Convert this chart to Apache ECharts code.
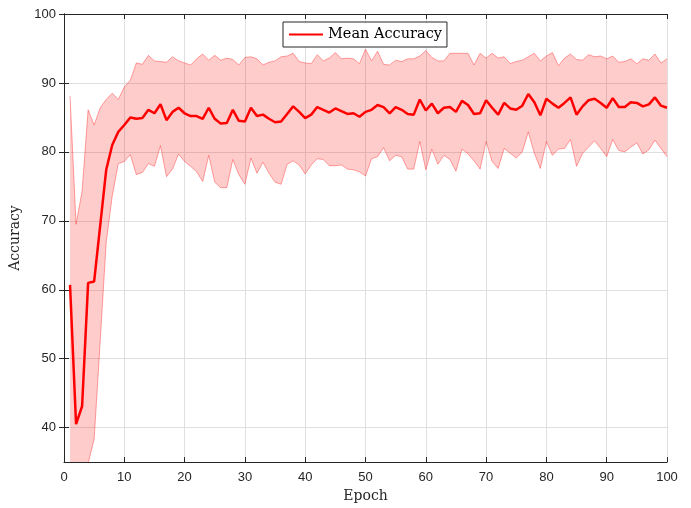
<!DOCTYPE html>
<html>
<head>
<meta charset="utf-8">
<script src="https://cdn.jsdelivr.net/npm/echarts@6/dist/echarts.min.js"></script>
<style>
  html, body { margin: 0; padding: 0; background: #fff; }
  #myChart { width: 691px; height: 508px; }
</style>
</head>
<body>
<div id="myChart"></div>
<script>
// Mean accuracy per epoch (1..100)
var meanAcc = [
  60.7, 40.5, 43.1, 61.0, 61.2, 69.3, 77.4, 81.0, 82.9, 83.9,
  85.0, 84.8, 84.9, 86.1, 85.6, 86.9, 84.6, 85.8, 86.4, 85.6,
  85.2, 85.2, 84.8, 86.4, 84.8, 84.1, 84.2, 86.1, 84.5, 84.4,
  86.4, 85.2, 85.4, 84.8, 84.3, 84.4, 85.5, 86.6, 85.8, 84.9,
  85.4, 86.5, 86.1, 85.7, 86.3, 85.9, 85.5, 85.6, 85.1, 85.8,
  86.1, 86.8, 86.5, 85.6, 86.5, 86.1, 85.5, 85.4, 87.6, 86.0,
  87.0, 85.6, 86.4, 86.5, 85.8, 87.4, 86.8, 85.5, 85.6, 87.5,
  86.4, 85.4, 87.1, 86.3, 86.1, 86.7, 88.4, 87.2, 85.3, 87.7,
  87.0, 86.4, 87.1, 87.9, 85.4, 86.6, 87.5, 87.7, 87.1, 86.4,
  87.8, 86.5, 86.5, 87.2, 87.1, 86.6, 86.9, 87.9, 86.7, 86.4
];

// upper edge of the shaded band
var upperAcc = [
  88.1, 69.5, 74.3, 86.1, 83.9, 86.4, 87.6, 88.5, 87.6, 89.4,
  90.4, 92.9, 92.7, 94.0, 93.2, 93.1, 93.0, 93.8, 93.2, 92.9,
  92.6, 93.5, 94.2, 93.3, 94.0, 93.3, 93.6, 93.4, 92.6, 93.7,
  93.8, 93.5, 92.6, 93.0, 93.2, 93.8, 93.9, 94.3, 93.1, 92.9,
  92.8, 94.1, 93.2, 93.6, 94.4, 93.5, 93.6, 93.5, 92.8, 94.9,
  93.2, 94.6, 92.7, 92.6, 93.3, 93.1, 93.5, 93.5, 93.9, 94.7,
  93.7, 93.2, 93.2, 94.3, 94.3, 94.3, 94.3, 92.6, 94.3, 93.6,
  94.3, 93.6, 93.8, 92.8, 93.1, 93.3, 93.8, 94.3, 93.2, 93.9,
  94.4, 92.5, 93.6, 94.2, 93.4, 93.3, 94.1, 93.8, 93.9, 93.5,
  93.9, 93.0, 93.1, 93.5, 92.8, 93.5, 93.3, 94.2, 92.9, 93.5
];

// lower edge of the shaded band (first epochs fall below the axis)
var lowerAcc = [
  30.0, 28.0, 30.0, 34.8, 38.3, 52.5, 66.9, 73.6, 78.3, 78.6,
  79.6, 76.7, 77.0, 78.3, 77.9, 80.9, 76.4, 77.5, 79.7, 78.6,
  77.9, 77.1, 75.7, 79.5, 75.6, 74.8, 74.8, 78.9, 76.7, 75.3,
  79.1, 76.9, 78.5, 76.9, 75.6, 75.3, 78.2, 78.7, 78.1, 76.8,
  78.1, 79.0, 78.9, 78.0, 78.0, 78.1, 77.5, 77.4, 77.1, 76.5,
  79.0, 79.3, 80.6, 78.7, 79.5, 79.3, 77.5, 77.5, 81.5, 77.4,
  80.4, 78.2, 79.5, 78.9, 77.2, 80.4, 79.7, 78.7, 77.5, 81.5,
  78.6, 77.6, 80.5, 79.8, 79.1, 80.0, 82.9, 79.8, 77.6, 81.5,
  79.5, 80.4, 80.5, 81.8, 77.9, 79.8, 80.7, 81.6, 80.5, 79.3,
  81.8, 80.2, 80.0, 80.7, 81.3, 79.7, 80.3, 81.7, 80.5, 79.3
];

var xTicks = [0, 10, 20, 30, 40, 50, 60, 70, 80, 90, 100];
var yTicks = [40, 50, 60, 70, 80, 90, 100];

// pair each value with its epoch number
function toPoints(values) {
  return values.map(function (v, i) { return [i + 1, v]; });
}

// draw the shaded band as one polygon, upper edge forward, lower edge back
function renderBand(params, api) {
  var pts = [];
  upperAcc.forEach(function (v, i) { pts.push(api.coord([i + 1, v])); });
  for (var i = lowerAcc.length - 1; i >= 0; i--) {
    pts.push(api.coord([i + 1, lowerAcc[i]]));
  }
  var cs = params.coordSys;
  return {
    type: 'polygon',
    shape: { points: pts },
    style: { fill: 'rgba(255,0,0,0.2)', stroke: 'none' },
    clipPath: { type: 'rect', shape: { x: cs.x, y: cs.y, width: cs.width, height: cs.height } },
    silent: true
  };
}

var axisColor = '#262626';
var gridColor = '#dfdfdf';
var labelFont = { color: axisColor, fontSize: 13, fontFamily: 'Liberation Sans, Arial, sans-serif' };

var myChart = echarts.init(document.getElementById('myChart'));

var option = {
  animation: false,
  backgroundColor: '#fff',
  grid: { left: 62, right: 24, top: 14, bottom: 45 },
  legend: {
    data: ['Mean Accuracy'],
    left: 283,
    top: 22,
    padding: [5, 5, 5, 5],
    itemWidth: 34,
    itemHeight: 14,
    itemGap: 4,
    backgroundColor: '#fff',
    borderColor: axisColor,
    borderWidth: 1,
    borderRadius: 0,
    itemStyle: { opacity: 0 },
    textStyle: { color: '#000', fontSize: 14.5, fontFamily: 'DejaVu Serif, Liberation Serif, serif' }
  },
  xAxis: [{
    type: 'value',
    min: 0,
    max: 100,
    interval: 10,
    name: 'Epoch',
    nameLocation: 'middle',
    nameGap: 26,
    nameTextStyle: { color: axisColor, fontSize: 14, fontFamily: 'DejaVu Serif, Liberation Serif, serif' },
    axisLine: { lineStyle: { color: axisColor, width: 1 } },
    axisTick: { inside: true, length: 5, lineStyle: { color: axisColor }, customValues: xTicks },
    axisLabel: Object.assign({ margin: 9, customValues: xTicks }, labelFont),
    splitLine: { show: true, lineStyle: { color: gridColor, width: 1 } }
  }, {
    type: 'value',
    position: 'top',
    min: 0,
    max: 100,
    interval: 10,
    axisLine: { show: true, lineStyle: { color: axisColor, width: 1 } },
    axisTick: { inside: true, length: 5, lineStyle: { color: axisColor } },
    axisLabel: { show: false },
    splitLine: { show: false }
  }],
  yAxis: [{
    type: 'value',
    min: 35,
    max: 100,
    name: 'Accuracy',
    nameLocation: 'middle',
    nameGap: 42,
    nameTextStyle: { color: axisColor, fontSize: 14, fontFamily: 'DejaVu Serif, Liberation Serif, serif' },
    axisLine: { show: true, lineStyle: { color: axisColor, width: 1 } },
    axisTick: { inside: true, length: 5, lineStyle: { color: axisColor }, customValues: yTicks },
    axisLabel: Object.assign({ margin: 8, customValues: yTicks }, labelFont),
    splitLine: { show: true, lineStyle: { color: gridColor, width: 1 } }
  }, {
    type: 'value',
    position: 'right',
    min: 35,
    max: 100,
    axisLine: { show: true, lineStyle: { color: axisColor, width: 1 } },
    axisTick: { inside: true, length: 5, lineStyle: { color: axisColor }, customValues: yTicks },
    axisLabel: { show: false, customValues: yTicks },
    splitLine: { show: false }
  }],
  series: [{
    name: 'band',
    type: 'custom',
    renderItem: renderBand,
    data: [0],
    silent: true,
    z: 1
  }, {
    name: 'upperEdge',
    type: 'line',
    symbol: 'none',
    silent: true,
    data: toPoints(upperAcc),
    lineStyle: { color: 'rgba(255,0,0,0.35)', width: 1 },
    z: 2
  }, {
    name: 'lowerEdge',
    type: 'line',
    symbol: 'none',
    silent: true,
    data: toPoints(lowerAcc),
    lineStyle: { color: 'rgba(255,0,0,0.35)', width: 1 },
    z: 2
  }, {
    name: 'Mean Accuracy',
    type: 'line',
    symbol: 'none',
    data: toPoints(meanAcc),
    itemStyle: { color: '#ff0000' },
    lineStyle: { color: '#ff0000', width: 2.5 },
    z: 5
  }]
};

myChart.setOption(option);
</script>
</body>
</html>
